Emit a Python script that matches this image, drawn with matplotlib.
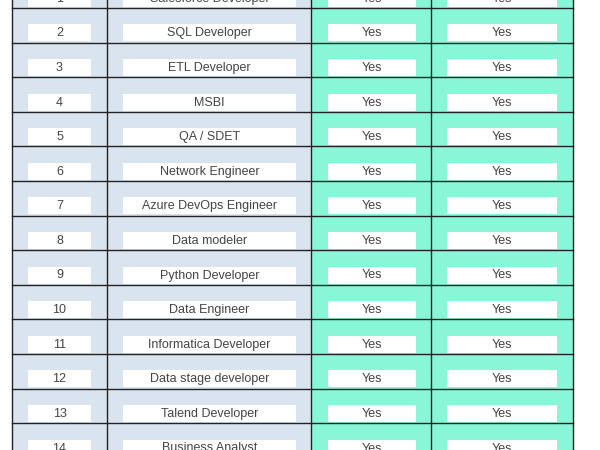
import matplotlib
matplotlib.use("Agg")
import matplotlib.pyplot as plt
from matplotlib.patches import Rectangle

numbers = ["1", "2", "3", "4", "5", "6", "7", "8", "9", "10", "11", "12", "13", "14"]
roles = ["Salesforce Developer", "SQL Developer", "ETL Developer", "MSBI", "QA / SDET",
         "Network Engineer", "Azure DevOps Engineer", "Data modeler", "Python Developer",
         "Data Engineer", "Informatica Developer", "Data stage developer",
         "Talend Developer", "Business Analyst"]
col3 = ["Yes"] * 14
col4 = ["Yes"] * 14

plt.rcParams['font.family'] = ['Liberation Sans', 'DejaVu Sans']
fig = plt.figure(figsize=(6, 4.5), dpi=100)
ax = fig.add_axes([0, 0, 1, 1])
ax.set_xlim(0, 600)
ax.set_ylim(450, 0)
ax.axis('off')

col_edges = [12, 107, 311, 431, 573]
col_bg = ["#DAE4EF", "#DAE4EF", "#88F7D8", "#88F7D8"]
box_x = [(28, 91), (123, 296), (328, 416), (447, 557)]
row_h = 34.6
top0 = 13 - row_h - 5
cols = [numbers, roles, col3, col4]

for c in range(4):
    ax.add_patch(Rectangle((col_edges[c], 0), col_edges[c+1]-col_edges[c], 450,
                           facecolor=col_bg[c], edgecolor='none', zorder=0))
for r in range(len(numbers)):
    top = top0 + r*row_h
    for c in range(4):
        x0, x1 = box_x[c]
        ax.add_patch(Rectangle((x0, top+16.3), x1-x0, 17, facecolor='white',
                               edgecolor='none', zorder=1))
        ax.text((x0+x1)/2, top+25.3, cols[c][r], ha='center', va='center',
                fontsize=9, color='#444444', zorder=2)
    ax.plot([12, 573], [top+row_h, top+row_h], color='#222222', lw=1, zorder=3)
for x in col_edges:
    ax.plot([x, x], [0, 450], color='#222222', lw=1, zorder=3)

fig.savefig("out.png", dpi=100)
